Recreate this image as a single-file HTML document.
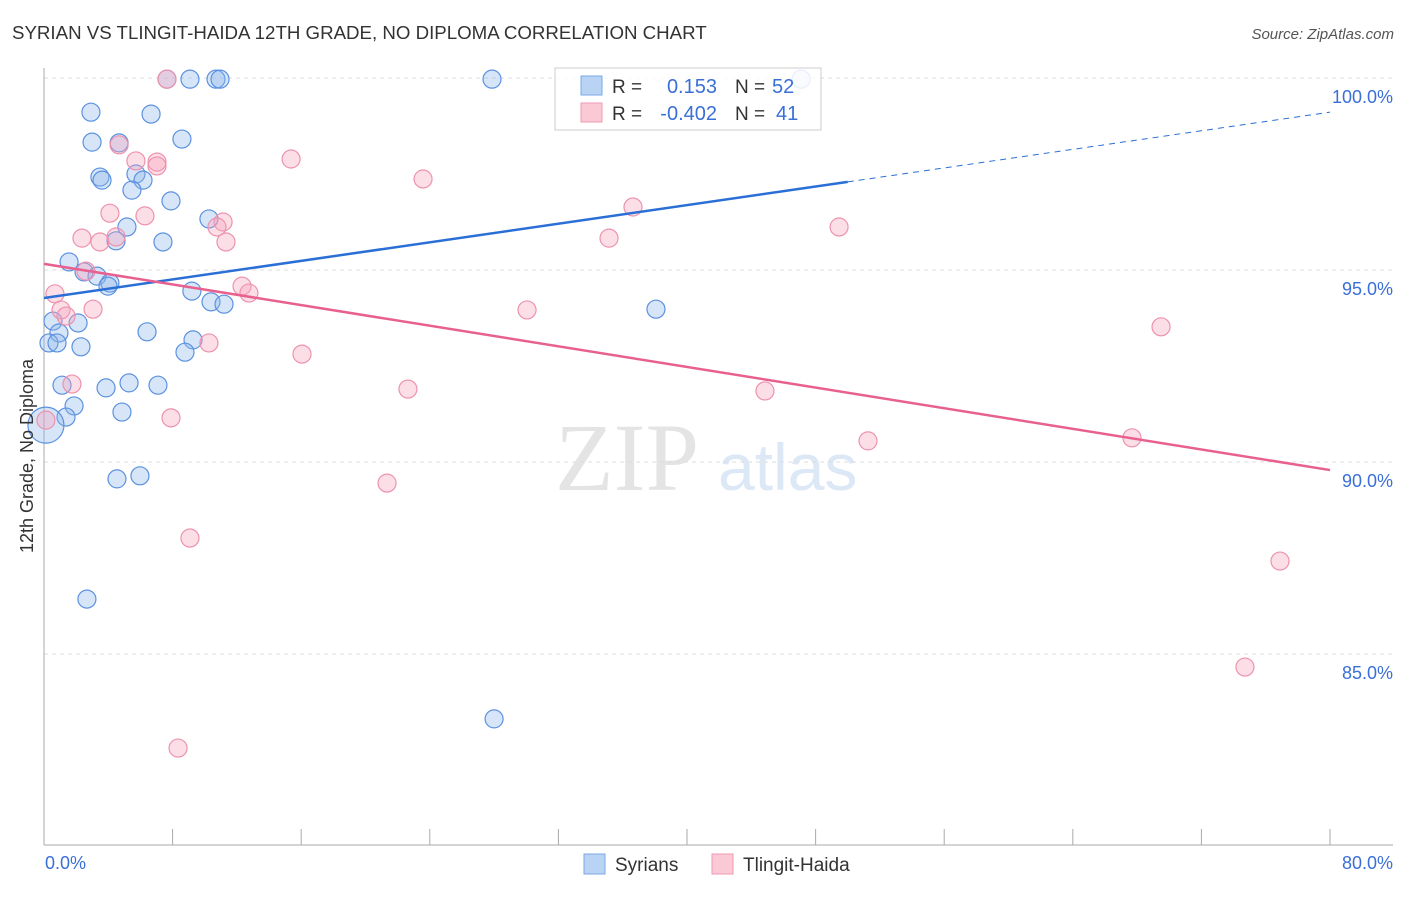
<!DOCTYPE html>
<html><head><meta charset="utf-8"><style>
body{margin:0;background:#fff;font-family:"Liberation Sans",sans-serif;}
</style></head><body>
<svg id="c" width="1406" height="892" xmlns="http://www.w3.org/2000/svg">
<text x="12" y="39" font-size="18.7" fill="#333">SYRIAN VS TLINGIT-HAIDA 12TH GRADE, NO DIPLOMA CORRELATION CHART</text>
<text x="1394" y="39" font-size="15" fill="#555" font-style="italic" text-anchor="end">Source: ZipAtlas.com</text>
<text x="555" y="490" font-size="96" fill="#e4e4e4" font-family="Liberation Serif,serif">ZIP</text>
<text x="718" y="490" font-size="66" fill="#dce8f6">atlas</text>
<g id="grid"></g><g id="axes"></g><g id="pts"></g><g id="lines"></g>
<text transform="translate(33,456) rotate(-90)" font-size="18" fill="#333" text-anchor="middle">12th Grade, No Diploma</text>
<text x="45" y="869" font-size="18" fill="#3a6fd8">0.0%</text>
<text x="1393" y="869" font-size="18" fill="#3a6fd8" text-anchor="end">80.0%</text>
<g>
<rect x="555" y="68" width="266" height="62" fill="#fff" fill-opacity="0.85" stroke="#ccc"/>
<rect x="581" y="76" width="21" height="19" fill="#b9d3f5" stroke="#7aa7e8"/>
<rect x="581" y="103" width="21" height="19" fill="#fbc9d6" stroke="#ef9ab2"/>
<text x="612" y="93" font-size="19" fill="#333">R =</text><text x="717" y="93" font-size="20" fill="#3a6fd8" text-anchor="end">0.153</text>
<text x="735" y="93" font-size="19" fill="#333">N =</text><text x="772" y="93" font-size="20" fill="#3a6fd8">52</text>
<text x="612" y="120" font-size="19" fill="#333">R =</text><text x="717" y="120" font-size="20" fill="#3a6fd8" text-anchor="end">-0.402</text>
<text x="735" y="120" font-size="19" fill="#333">N =</text><text x="776" y="120" font-size="20" fill="#3a6fd8">41</text>
</g>
<g><rect x="584" y="854" width="21" height="20" fill="#b9d3f5" stroke="#7aa7e8"/><text x="615" y="871" font-size="19" fill="#333">Syrians</text></g>
<g><rect x="712" y="854" width="21" height="20" fill="#fbc9d6" stroke="#ef9ab2"/><text x="743" y="871" font-size="19" fill="#333">Tlingit-Haida</text></g>
</svg>
<script>
const blueX=[7.65,9.08,10.7,10.95,27.87,47.1,2.92,6.66,2.99,4.67,8.58,3.48,3.61,5.72,6.16,5.47,7.9,10.26,5.16,4.48,7.4,1.56,2.49,3.3,4.1,3.98,9.2,10.39,11.2,38.07,0.56,2.12,0.93,6.41,0.31,0.81,2.3,9.27,8.77,1.12,3.86,5.29,7.09,1.87,1.37,4.85,0.12,4.54,5.97,2.67,28.0];
const blueY=[99.97,99.97,99.97,99.97,99.97,99.97,99.11,99.06,98.33,98.31,98.41,97.42,97.34,97.5,97.34,97.08,96.8,96.33,96.12,95.76,95.73,95.21,94.95,94.84,94.66,94.58,94.45,94.17,94.11,93.98,93.67,93.62,93.36,93.39,93.1,93.1,93.0,93.18,92.86,92.0,91.93,92.06,92.0,91.46,91.17,91.3,90.96,89.56,89.64,86.43,83.31];
const pinkX=[7.65,4.67,5.72,7.03,7.03,15.37,23.58,4.1,6.28,36.64,11.14,10.76,2.36,3.48,4.48,11.32,35.15,49.46,2.61,12.32,12.75,0.68,1.06,1.37,3.05,30.05,69.49,10.26,16.05,1.74,22.64,44.85,7.9,0.12,51.26,67.68,21.34,9.08,76.89,74.71,8.34];
const pinkY=[99.97,98.26,97.84,97.81,97.71,97.89,97.37,96.48,96.41,96.64,96.25,96.12,95.83,95.73,95.86,95.73,95.83,96.12,94.97,94.58,94.4,94.38,93.96,93.8,93.98,93.96,93.52,93.1,92.81,92.03,91.9,91.85,91.15,91.09,90.55,90.63,89.45,88.02,87.42,84.66,82.55];
const yTicks=[100,95,90,85];
const blueTrend=[94.27,99.11];
const pinkTrend=[95.16,89.79];
const blueSolidEnd=50;
const NS="http://www.w3.org/2000/svg";
const xs=v=>44+v/80*1286, ys=v=>78+(100-v)*38.4;
function mk(t,a,p){const e=document.createElementNS(NS,t);for(const k in a)e.setAttribute(k,a[k]);p.appendChild(e);return e;}
const grid=document.getElementById('grid');
yTicks.forEach(t=>{
 const l=mk('line',{x1:44,x2:1393,y1:ys(t),y2:ys(t),stroke:'#ddd','stroke-dasharray':'4,4'},grid);
 
 
 const tx=mk('text',{x:1393,y:ys(t)+25,'font-size':18,fill:'#3a6fd8','text-anchor':'end'},grid);
 tx.textContent=t.toFixed(1)+'%';
 
 
});
const ax=document.getElementById('axes');
mk('line',{x1:44,x2:44,y1:68,y2:845,stroke:'#aaa'},ax);
mk('line',{x1:44,x2:1393,y1:845,y2:845,stroke:'#aaa'},ax);
for(let i=0;i<=10;i++){const t=mk('line',{x1:xs(i*8),x2:xs(i*8),y1:829,y2:845,stroke:'#aaa'},ax);
 
 }
const pts=document.getElementById('pts');
blueX.forEach((x,i)=>{const c=mk('circle',{cx:xs(x),cy:ys(blueY[i]),r:i==46?18:9,fill:'rgba(140,180,235,0.35)',stroke:'#5b92e0','stroke-width':1.2},pts);
 
 });
pinkX.forEach((x,i)=>{const c=mk('circle',{cx:xs(x),cy:ys(pinkY[i]),r:9,fill:'rgba(245,160,185,0.35)',stroke:'#ee92ae','stroke-width':1.2},pts);
 
 });
const ln=document.getElementById('lines');
const by=x=>blueTrend[0]+(blueTrend[1]-blueTrend[0])*x/80;
const b1=mk('line',{x1:xs(0),y1:ys(by(0)),x2:xs(blueSolidEnd),y2:ys(by(blueSolidEnd)),stroke:'#2a6fd6','stroke-width':2.5},ln);


const b2=mk('line',{x1:xs(blueSolidEnd),y1:ys(by(blueSolidEnd)),x2:xs(80),y2:ys(by(80)),stroke:'#2a6fd6','stroke-width':1,'stroke-dasharray':'6,5'},ln);


const p1=mk('line',{x1:xs(0),y1:ys(pinkTrend[0]),x2:xs(80),y2:ys(pinkTrend[1]),stroke:'#e8608f','stroke-width':2.5},ln);


</script>
</body></html>
